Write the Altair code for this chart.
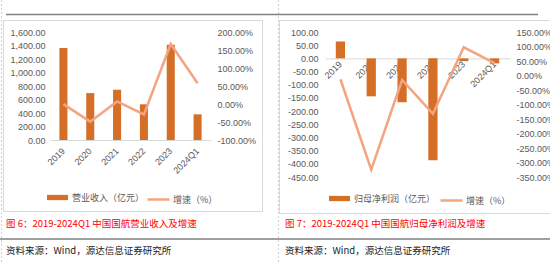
import altair as alt
import pandas as pd

# ---------------- data ----------------
years = ["2019", "2020", "2021", "2022", "2023", "2024Q1"]
revenue = [1361.8, 695.0, 745.3, 529.0, 1411.0, 380.4]          # 营业收入（亿元）
revenue_growth = [-0.4, -49.0, 7.2, -29.0, 166.7, 57.7]          # 增速（%）
profit = [64.1, -144.0, -166.4, -386.2, -10.5, -19.1]           # 归母净利润（亿元）
profit_growth = [-13.0, -324.7, -15.5, -132.1, 97.3, 43.0]       # 增速（%）

rev_ticks = [0, 200, 400, 600, 800, 1000, 1200, 1400, 1600]
rev_g_ticks = [-100, -50, 0, 50, 100, 150, 200]
pro_ticks = [-450, -400, -350, -300, -250, -200, -150, -100, -50, 0, 50, 100]
pro_g_ticks = [-350, -300, -250, -200, -150, -100, -50, 0, 50, 100, 150]

caption_left = "图 6：2019-2024Q1 中国国航营业收入及增速"
caption_right = "图 7：2019-2024Q1 中国国航归母净利润及增速"
source_text = "资料来源：Wind，源达信息证券研究所"
bar_name_left = "营业收入（亿元）"
bar_name_right = "归母净利润（亿元）"
line_name = "增速（%）"

# ---------------- style ----------------
W, H = 550, 264
BAR = "#D56F28"
LINE = "#F4A47E"
LBL = "#595959"
NUMFONT = "Liberation Sans"
CJK = "Noto Sans CJK SC"

df_rev = pd.DataFrame({"year": years, "value": revenue, "series": bar_name_left})
df_rev_g = pd.DataFrame({"year": years, "value": revenue_growth, "series": line_name})
df_pro = pd.DataFrame({"year": years, "value": profit, "series": bar_name_right})
df_pro_g = pd.DataFrame({"year": years, "value": profit_growth, "series": line_name})


def xscale(r0, r1):
    return alt.Scale(domain=years, range=[r0, r1], paddingInner=0.7, paddingOuter=0.35)


def xaxis(axis_y, pad):
    return alt.Axis(orient="bottom", offset=axis_y - H, labelAngle=-45, labelAlign="right",
                    labelBaseline="middle", labelPadding=pad, ticks=False, domain=True,
                    domainColor="#d9d9d9", domainWidth=1, grid=False, title=None,
                    labelFont=NUMFONT, labelFontSize=9, labelColor=LBL)


def yaxis_left(x_right, ticks):
    return alt.Axis(orient="left", offset=-x_right, values=ticks, grid=False, ticks=False,
                    domain=False, title=None, labelPadding=0, labelFont=NUMFONT,
                    labelFontSize=9, labelColor=LBL,
                    labelExpr="replace(format(datum.value, ',.2f'), '\u2212', '-')")


def yaxis_right(x_left, ticks):
    return alt.Axis(orient="right", offset=x_left - W, values=ticks, grid=False, ticks=False,
                    domain=False, title=None, labelPadding=0, labelFont=NUMFONT,
                    labelFontSize=9, labelColor=LBL,
                    labelExpr="replace(format(datum.value, '.2f'), '\u2212', '-') + '%'")


def bar_legend(lx, ly):
    return alt.Legend(orient="none", legendX=lx, legendY=ly, title=None, direction="horizontal",
                      symbolType="M-1,-0.25H1V0.25H-1Z", symbolSize=441, symbolStrokeWidth=0,
                      labelFont=CJK, labelFontSize=9, labelColor=LBL, labelOffset=4, padding=0)


def line_legend(lx, ly):
    return alt.Legend(orient="none", legendX=lx, legendY=ly, title=None, direction="horizontal",
                      symbolType="stroke", symbolSize=484, symbolStrokeWidth=2.5,
                      labelFont=CJK, labelFontSize=9, labelColor=LBL, labelOffset=2, padding=0)


# ---------------- left panel ----------------
L_X0, L_X1 = 50, 211
L_Y0, L_Y1 = 140, 32

bars_left = alt.Chart(df_rev).mark_bar().encode(
    x=alt.X("year:N", sort=years, scale=xscale(L_X0, L_X1), axis=xaxis(140, 9)),
    y=alt.Y("value:Q", scale=alt.Scale(domain=[0, 1600], range=[L_Y0, L_Y1], nice=False, zero=False),
            axis=yaxis_left(45, rev_ticks)),
    color=alt.Color("series:N", scale=alt.Scale(domain=[bar_name_left], range=[BAR]),
                    legend=bar_legend(47, 187)),
)

line_left = alt.Chart(df_rev_g).mark_line(strokeWidth=2.5).encode(
    x=alt.X("year:N", sort=years, scale=xscale(L_X0, L_X1), axis=None),
    y=alt.Y("value:Q", scale=alt.Scale(domain=[-100, 200], range=[L_Y0, L_Y1], nice=False, zero=False),
            axis=yaxis_right(217, rev_g_ticks)),
    color=alt.Color("series:N", scale=alt.Scale(domain=[line_name], range=[LINE]),
                    legend=line_legend(146, 187)),
)

# ---------------- right panel ----------------
R_X0, R_X1 = 325, 510
R_Y0, R_Y1 = 177, 32

bars_right = alt.Chart(df_pro).mark_bar().encode(
    x=alt.X("year:N", sort=years, scale=xscale(R_X0, R_X1), axis=xaxis(58.4, 4)),
    y=alt.Y("value:Q", scale=alt.Scale(domain=[-450, 100], range=[R_Y0, R_Y1], nice=False, zero=False),
            axis=yaxis_left(318, pro_ticks)),
    color=alt.Color("series:N", scale=alt.Scale(domain=[bar_name_right], range=[BAR]),
                    legend=bar_legend(329, 188)),
)

line_right = alt.Chart(df_pro_g).mark_line(strokeWidth=2.5).encode(
    x=alt.X("year:N", sort=years, scale=xscale(R_X0, R_X1), axis=None),
    y=alt.Y("value:Q", scale=alt.Scale(domain=[-350, 150], range=[R_Y0, R_Y1], nice=False, zero=False),
            axis=yaxis_right(516, pro_g_ticks)),
    color=alt.Color("series:N", scale=alt.Scale(domain=[line_name], range=[LINE]),
                    legend=line_legend(439, 188)),
)

# ---------------- decorations ----------------
one = pd.DataFrame({"k": [0]})

frame_left = alt.Chart(one).mark_rect(fillOpacity=0, stroke="#d9d9d9", strokeWidth=1).encode(
    x=alt.value(3.5), x2=alt.value(262.5), y=alt.value(20.5), y2=alt.value(211.5))
frame_right = alt.Chart(one).mark_rect(fillOpacity=0, stroke="#d9d9d9", strokeWidth=1).encode(
    x=alt.value(279.5), x2=alt.value(560), y=alt.value(20.5), y2=alt.value(213.5))

dash_left = alt.Chart(one).mark_rule(stroke="#d0d0d0", strokeWidth=1, strokeDash=[2, 2]).encode(
    x=alt.value(1.5), y=alt.value(0), y2=alt.value(H))
dash_mid = alt.Chart(one).mark_rule(stroke="#d0d0d0", strokeWidth=1, strokeDash=[2, 2]).encode(
    x=alt.value(278.5), y=alt.value(0), y2=alt.value(H))

top_rule_left = alt.Chart(one).mark_rule(stroke="#808080", strokeWidth=1.5).encode(
    x=alt.value(6), x2=alt.value(278), y=alt.value(14.5))
top_rule_right = alt.Chart(one).mark_rule(stroke="#808080", strokeWidth=1.5).encode(
    x=alt.value(278), x2=alt.value(538), y=alt.value(14.5))
bottom_rule = alt.Chart(one).mark_rule(stroke="#808080", strokeWidth=1.5).encode(
    x=alt.value(0), x2=alt.value(W), y=alt.value(239))

cap_l = alt.Chart(one).mark_text(align="left", baseline="middle", font=CJK, fontSize=9.5,
                                 color="#FF0000", text=caption_left).encode(
    x=alt.value(6), y=alt.value(224))
cap_r = alt.Chart(one).mark_text(align="left", baseline="middle", font=CJK, fontSize=9.5,
                                 color="#FF0000", text=caption_right).encode(
    x=alt.value(285), y=alt.value(224))
src_l = alt.Chart(one).mark_text(align="left", baseline="middle", font=CJK, fontSize=9.5,
                                 color="#1a1a1a", text=source_text).encode(
    x=alt.value(6), y=alt.value(251))
src_r = alt.Chart(one).mark_text(align="left", baseline="middle", font=CJK, fontSize=9.5,
                                 color="#1a1a1a", text=source_text).encode(
    x=alt.value(285), y=alt.value(251))

chart = alt.layer(
    frame_left, frame_right, dash_left, dash_mid, top_rule_left, top_rule_right, bottom_rule,
    bars_left, line_left, bars_right, line_right,
    cap_l, cap_r, src_l, src_r,
).resolve_scale(
    x="independent", y="independent", color="independent"
).properties(
    width=W, height=H, autosize="none", padding=0, background="white"
).configure_view(stroke=None)

chart.save("out.html", embed_options={"renderer": "svg", "actions": False})
